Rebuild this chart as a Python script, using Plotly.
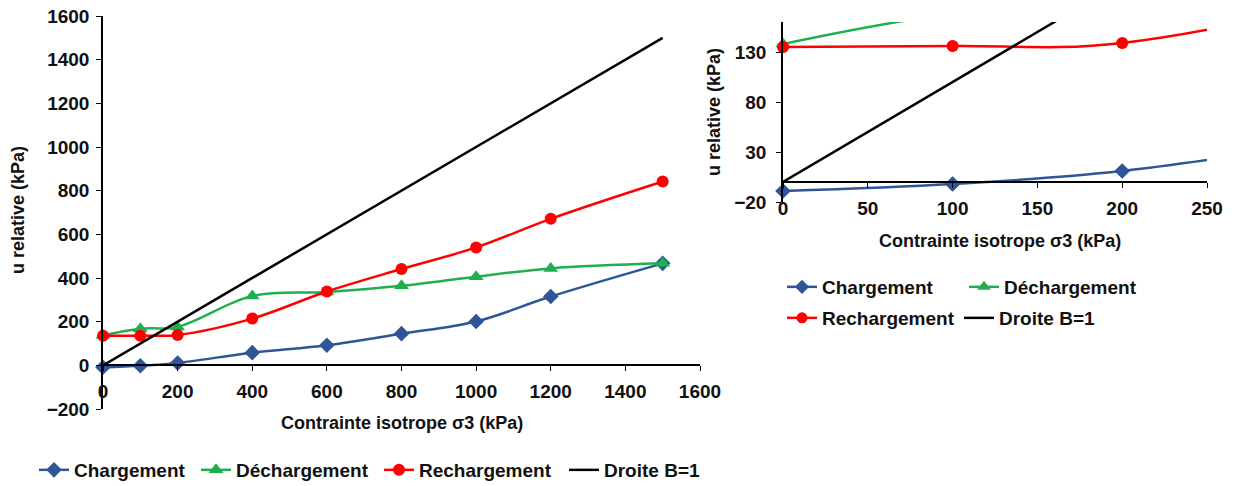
import plotly.graph_objects as go

# ---- data ----
sigma3 = [0, 100, 200, 400, 600, 800, 1000, 1200, 1500]
chargement = [-9, -2, 11, 58, 92, 145, 201, 315, 467]
dechargement = [138, 168, 176, 318, 336, 364, 406, 444, 467]
rechargement = [135, 136, 139, 214, 338, 441, 540, 671, 842]
droite_x = [0, 1500]
droite_y = [0, 1500]

names = ["Chargement", "Déchargement", "Rechargement", "Droite B=1"]
colors = ["#2E5597", "#1FAF4F", "#FF0000", "#000000"]
symbols = ["diamond", "triangle-up", "circle", None]
msizes = [12, 13, 12, 0]

left_ticks = [0, 200, 400, 600, 800, 1000, 1200, 1400, 1600]
left_yticks = [-200, 0, 200, 400, 600, 800, 1000, 1200, 1400, 1600]
right_xticks = [0, 50, 100, 150, 200, 250]
right_yticks = [-20, 30, 80, 130]

# page body has an 8px margin; figure is sized to fit the window
OFF = 8
W, H = 1235 - OFF, 486 - OFF
FONT = "Liberation Sans, Arial, sans-serif"

def px_x(p):
    return (p - OFF) / W

def px_y(p):
    return 1 - (p - OFF) / H

series = [
    (sigma3, chargement),
    (sigma3, dechargement),
    (sigma3, rechargement),
    (droite_x, droite_y),
]

# legend entry widths (text area, px) to match spacing of the reference legends
left_lw = [117, 138, 140, 95]
right_lw = [137, 140, 132, 95]
right_legends = ["legend2", "legend2", "legend3", "legend3"]

fig = go.Figure()

# left chart
for (xs, ys), n, c, s, ms, lw in zip(series, names, colors, symbols, msizes, left_lw):
    if s is None:
        fig.add_trace(go.Scatter(x=xs, y=ys, name=n, mode="lines",
                                 line=dict(color=c, width=2.5),
                                 xaxis="x", yaxis="y", legend="legend",
                                 legendwidth=lw, cliponaxis=False))
    else:
        fig.add_trace(go.Scatter(x=xs, y=ys, name=n, mode="lines+markers",
                                 line=dict(color=c, width=2.5, shape="spline"),
                                 marker=dict(symbol=s, size=ms, color=c),
                                 xaxis="x", yaxis="y", legend="legend",
                                 legendwidth=lw, cliponaxis=False))

# right chart (zoom)
rx_max, ry_min, ry_max = 250, -20, 160
for (xs, ys), n, c, s, ms, lg, lw in zip(series, names, colors, symbols, msizes,
                                         right_legends, right_lw):
    if s is None:
        fig.add_trace(go.Scatter(x=xs, y=ys, name=n, mode="lines",
                                 line=dict(color=c, width=2.5),
                                 xaxis="x2", yaxis="y2", legend=lg, legendwidth=lw))
    else:
        fig.add_trace(go.Scatter(x=xs, y=ys, name=n, mode="lines+markers",
                                 line=dict(color=c, width=2.5, shape="spline"),
                                 marker=dict(symbol=s, size=ms - 1, color=c),
                                 xaxis="x2", yaxis="y2", legend=lg, legendwidth=lw))
        px_ = [x for x, y in zip(xs, ys) if x <= rx_max and ry_min <= y <= ry_max]
        py_ = [y for x, y in zip(xs, ys) if x <= rx_max and ry_min <= y <= ry_max]
        fig.add_trace(go.Scatter(x=px_, y=py_, mode="markers", showlegend=False,
                                 marker=dict(symbol=s, size=ms, color=c),
                                 xaxis="x2", yaxis="y2", cliponaxis=False,
                                 hoverinfo="skip"))

# domains
lx = [px_x(103), px_x(700)]
ly = [px_y(409), px_y(16)]
rx = [px_x(783), px_x(1207)]
ry = [px_y(202), px_y(22)]

l_pos = ly[0] + (ly[1] - ly[0]) * (0 - (-200)) / 1800
r_pos = ry[0] + (ry[1] - ry[0]) * (0 - ry_min) / (ry_max - ry_min)

axis_common = dict(showline=True, linecolor="black", linewidth=1.5,
                   ticks="outside", ticklen=5, tickcolor="black",
                   showgrid=False, zeroline=False, ticklabeloverflow="allow",
                   tickfont=dict(family=FONT, size=19, color="#111", weight="bold"))

LFONT = dict(family=FONT, size=19, color="#111", weight="bold")
TFONT = dict(family=FONT, size=18, color="#111", weight="bold")

def leg(x, y):
    return dict(orientation="h", x=px_x(x), y=px_y(y), xanchor="left",
                yanchor="middle", bgcolor="rgba(0,0,0,0)", font=LFONT,
                itemwidth=30)

def title_ann(text, x, y, angle=0):
    return dict(text=text, x=px_x(x), y=px_y(y), xref="paper", yref="paper",
                xanchor="center", yanchor="middle", showarrow=False,
                textangle=angle, font=TFONT)

fig.update_layout(
    width=W, height=H,
    margin=dict(l=0, r=0, t=0, b=0, autoexpand=False),
    paper_bgcolor="white", plot_bgcolor="white",
    font=dict(family=FONT, size=18, color="#111"),
    xaxis=dict(domain=lx, range=[0, 1600], tickvals=left_ticks,
               anchor="free", position=l_pos, ticklabelstandoff=4, **axis_common),
    yaxis=dict(domain=ly, range=[-200, 1600], tickvals=left_yticks,
               anchor="x", ticklabelstandoff=3, **axis_common),
    xaxis2=dict(domain=rx, range=[0, 250], tickvals=right_xticks,
                anchor="free", position=r_pos, ticklabelstandoff=4, **axis_common),
    yaxis2=dict(domain=ry, range=[ry_min, ry_max], tickvals=right_yticks,
                anchor="x2", ticklabelstandoff=6, **axis_common),
    legend=leg(34, 470),
    legend2=leg(782, 287),
    legend3=leg(782, 318),
    annotations=[
        title_ann("u relative (kPa)", 18, 210, -90),
        title_ann("Contrainte isotrope σ3 (kPa)", 402, 423),
        title_ann("u relative (kPa)", 714, 112, -90),
        title_ann("Contrainte isotrope σ3 (kPa)", 1000, 241),
    ],
)

fig.write_html("out.html")
